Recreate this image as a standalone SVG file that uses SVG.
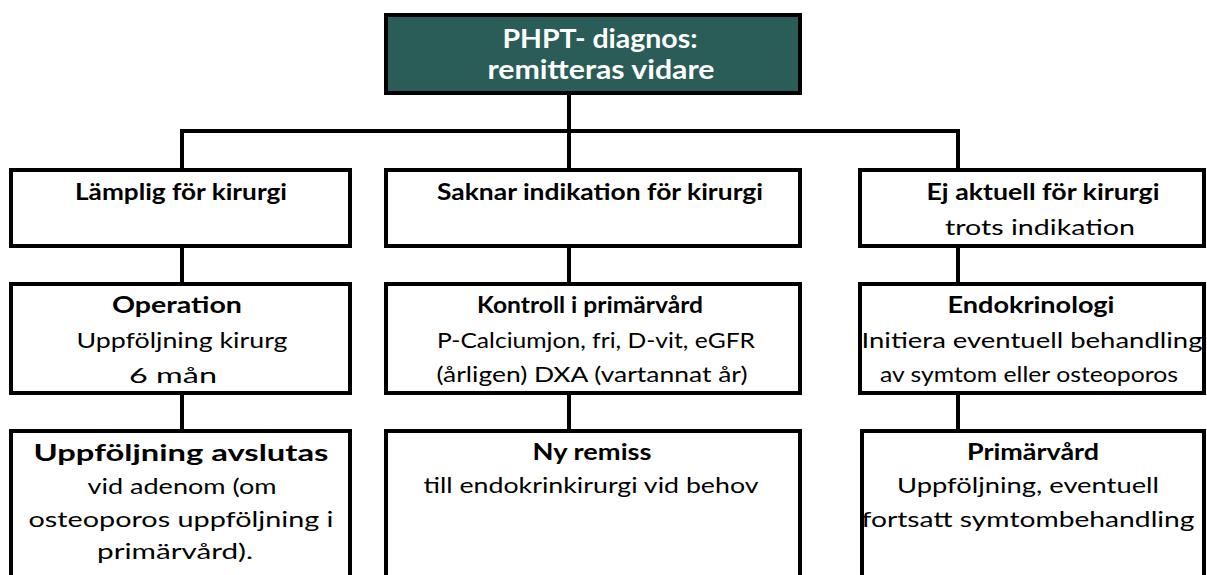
<svg xmlns="http://www.w3.org/2000/svg" width="1207" height="575" viewBox="0 0 1207 575">
<style>
.box{fill:#ffffff;stroke:#000000;stroke-width:4}
.top{fill:#2b5d58;stroke:#000000;stroke-width:4}
.conn{fill:none;stroke:#000000;stroke-width:4;stroke-linecap:square}
text{font-family:Lato,"Liberation Sans",sans-serif;font-size:22px;fill:#000000;text-anchor:middle}
.b{font-weight:bold}
.w{fill:#ffffff;font-weight:bold;font-size:27px}
</style>
<rect width="1207" height="575" fill="#ffffff"/>
<g id="connectors">
<path class="conn" d="M569,95 V131 M182,131 H958 M182,131 V168 M569,131 V168 M958,131 V168"/>
<path class="conn" d="M182,248 V282 M569,248 V282 M958,248 V282"/>
<path class="conn" d="M182,395 V429 M569,395 V429 M958,395 V429"/>
</g>
<g id="n-top">
<rect class="top" x="386" y="15" width="414" height="78"/>
<text class="w" x="600" y="48" textLength="195" lengthAdjust="spacingAndGlyphs">PHPT- diagnos:</text>
<text class="w" x="601" y="79" textLength="227" lengthAdjust="spacingAndGlyphs">remitteras vidare</text>
</g>
<g id="n-lamplig">
<rect class="box" x="11" y="170" width="339" height="76"/>
<text class="b" x="181" y="200" textLength="212" lengthAdjust="spacingAndGlyphs">Lämplig för kirurgi</text>
</g>
<g id="n-saknar">
<rect class="box" x="386" y="170" width="414" height="76"/>
<text class="b" x="600" y="200" textLength="326" lengthAdjust="spacingAndGlyphs">Saknar indikation för kirurgi</text>
</g>
<g id="n-ej">
<rect class="box" x="860" y="170" width="344" height="76"/>
<text class="b" x="1043" y="200" textLength="233" lengthAdjust="spacingAndGlyphs">Ej aktuell för kirurgi</text>
<text x="1040" y="235" textLength="190" lengthAdjust="spacingAndGlyphs">trots indikation</text>
</g>
<g id="n-operation">
<rect class="box" x="11" y="284" width="339" height="109"/>
<text class="b" x="177" y="313" textLength="130" lengthAdjust="spacingAndGlyphs">Operation</text>
<text x="182" y="348" textLength="211" lengthAdjust="spacingAndGlyphs">Uppföljning kirurg</text>
<text x="173" y="383" textLength="88" lengthAdjust="spacingAndGlyphs">6 mån</text>
</g>
<g id="n-kontroll">
<rect class="box" x="386" y="284" width="414" height="109"/>
<text class="b" x="590" y="313" textLength="226" lengthAdjust="spacingAndGlyphs">Kontroll i primärvård</text>
<text x="596" y="348" textLength="318" lengthAdjust="spacingAndGlyphs">P-Calciumjon, fri, D-vit, eGFR</text>
<text x="592" y="382" textLength="311" lengthAdjust="spacingAndGlyphs">(årligen) DXA (vartannat år)</text>
</g>
<g id="n-endokrinologi">
<rect class="box" x="860" y="284" width="344" height="109"/>
<text class="b" x="1031" y="313" textLength="167" lengthAdjust="spacingAndGlyphs">Endokrinologi</text>
<text x="1032" y="348" textLength="341" lengthAdjust="spacingAndGlyphs">Initiera eventuell behandling</text>
<text x="1029" y="382" textLength="298" lengthAdjust="spacingAndGlyphs">av symtom eller osteoporos</text>
</g>
<g id="n-avslutas">
<rect class="box" x="11" y="431" width="339" height="200"/>
<text class="b" x="181" y="461" textLength="295" lengthAdjust="spacingAndGlyphs">Uppföljning avslutas</text>
<text x="182" y="494" textLength="189" lengthAdjust="spacingAndGlyphs">vid adenom (om</text>
<text x="181" y="527" textLength="305" lengthAdjust="spacingAndGlyphs">osteoporos uppföljning i</text>
<text x="175" y="559" textLength="156" lengthAdjust="spacingAndGlyphs">primärvård).</text>
</g>
<g id="n-remiss">
<rect class="box" x="386" y="431" width="414" height="200"/>
<text class="b" x="592" y="460" textLength="119" lengthAdjust="spacingAndGlyphs">Ny remiss</text>
<text x="591" y="493" textLength="335" lengthAdjust="spacingAndGlyphs">till endokrinkirurgi vid behov</text>
</g>
<g id="n-primarvard">
<rect class="box" x="862" y="431" width="342" height="200"/>
<text class="b" x="1033" y="460" textLength="132" lengthAdjust="spacingAndGlyphs">Primärvård</text>
<text x="1028" y="493" textLength="262" lengthAdjust="spacingAndGlyphs">Uppföljning, eventuell</text>
<text x="1028" y="527" textLength="333" lengthAdjust="spacingAndGlyphs">fortsatt symtombehandling</text>
</g>
</svg>
